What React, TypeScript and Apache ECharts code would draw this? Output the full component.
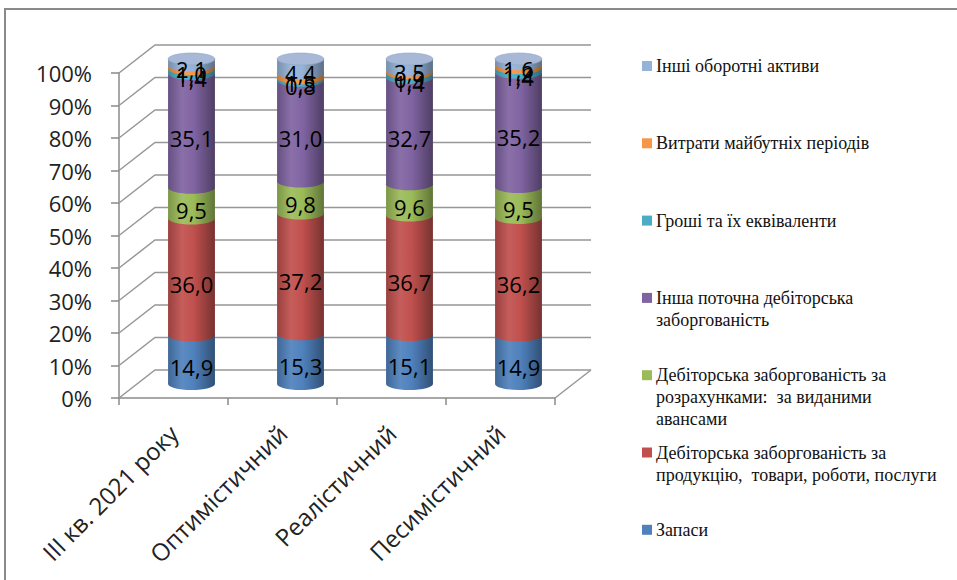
import { useEffect, useRef } from "react";
import * as echarts from "echarts";

// Scenario columns and tick values
const categories = ["III кв. 2021 року", "Оптимістичний", "Реалістичний", "Песимістичний"];
const yTicks = [0, 10, 20, 30, 40, 50, 60, 70, 80, 90, 100];

// Structure of current assets, % (bottom to top of each column)
const zapasy = [14.9, 15.3, 15.1, 14.9];
const debProdukciya = [36.0, 37.2, 36.7, 36.2];
const debAvansy = [9.5, 9.8, 9.6, 9.5];
const inshaDebitorska = [35.1, 31.0, 32.7, 35.2];
const groshi = [1.4, 0.8, 1.4, 1.4];
const vytratyMaibutnikh = [1.0, 1.5, 0.9, 1.2];
const inshiAktyvy = [2.1, 4.4, 3.5, 1.6];

const seriesNames = [
  "Запаси",
  "Дебіторська заборгованість за продукцію,  товари, роботи, послуги",
  "Дебіторська заборгованість за розрахунками:  за виданими авансами",
  "Інша поточна дебіторська заборгованість",
  "Гроші та їх еквіваленти",
  "Витрати майбутніх періодів",
  "Інші оборотні активи",
];
const legendLabels = [
  "Запаси",
  "Дебіторська заборгованість за\nпродукцію,  товари, роботи, послуги",
  "Дебіторська заборгованість за\nрозрахунками:  за виданими\nавансами",
  "Інша поточна дебіторська\nзаборгованість",
  "Гроші та їх еквіваленти",
  "Витрати майбутніх періодів",
  "Інші оборотні активи",
];
const seriesValues = [zapasy, debProdukciya, debAvansy, inshaDebitorska, groshi, vytratyMaibutnikh, inshiAktyvy];
const colors = ["#4F81BD", "#C0504D", "#9BBB59", "#8064A2", "#4BACC6", "#F79646", "#95B3D7"];

// pseudo-3D depth of the plot box
const DEPTH_X = 36;
const DEPTH_Y = -28;
const CAP_RY = 6;
const FONT = '"Open Sans", "Liberation Sans", sans-serif';
const SERIF = "'Liberation Serif', 'Times New Roman', 'DejaVu Serif', serif";

function shade(hex: string, f: number): string {
  const n = parseInt(hex.slice(1), 16);
  const ch = [n >> 16, (n >> 8) & 255, n & 255].map((c) =>
    f >= 0 ? Math.round(c + (255 - c) * f) : Math.round(c * (1 + f))
  );
  return `rgb(${ch[0]},${ch[1]},${ch[2]})`;
}

function cylGradient(hex: string) {
  return {
    type: "linear",
    x: 0,
    y: 0,
    x2: 1,
    y2: 0,
    colorStops: [
      { offset: 0, color: shade(hex, -0.2) },
      { offset: 0.3, color: shade(hex, 0.08) },
      { offset: 0.55, color: hex },
      { offset: 1, color: shade(hex, -0.38) },
    ],
  };
}

const fmt = (v: number) => v.toFixed(1).replace(".", ",");

export default function App() {
  const ref = useRef<HTMLDivElement>(null);

  useEffect(() => {
    if (!ref.current) return;
    const chart = echarts.init(ref.current, null, { renderer: "svg" });

    // 100% stacking: cumulative shares per column
    const totals = categories.map((_, c) => seriesValues.reduce((s, arr) => s + arr[c], 0));
    const cum = categories.map(() => 0);

    const barSeries = seriesValues.map((vals, si) => {
      const data = vals.map((v, c) => {
        const start = cum[c];
        const end = start + (v / totals[c]) * 100;
        cum[c] = end;
        return [c, start, end, v];
      });
      const isTop = si === seriesValues.length - 1;
      const color = colors[si];
      return {
        type: "custom",
        name: seriesNames[si],
        z: 3,
        silent: true,
        encode: { x: 0, y: [1, 2] },
        data,
        renderItem: (params: any, api: any) => {
          const cat = api.value(0);
          const p0 = api.coord([cat, api.value(1)]);
          const p1 = api.coord([cat, api.value(2)]);
          const w = api.size([1, 0])[0] * 0.43;
          const cx = p0[0] + DEPTH_X / 2;
          const yb = p0[1] + DEPTH_Y / 2;
          const yt = p1[1] + DEPTH_Y / 2;
          const children: any[] = [
            {
              type: "ellipse",
              shape: { cx, cy: yb, rx: w / 2, ry: CAP_RY },
              style: { fill: cylGradient(color) },
            },
            {
              type: "rect",
              shape: { x: cx - w / 2, y: yt, width: w, height: Math.max(yb - yt, 0) },
              style: { fill: cylGradient(color) },
            },
          ];
          if (isTop) {
            children.push({
              type: "ellipse",
              shape: { cx, cy: yt, rx: w / 2, ry: CAP_RY },
              style: { fill: "#a7b9d6", stroke: "#8ea3c4", lineWidth: 0.6 },
            });
          }
          children.push({
            type: "text",
            z2: 100,
            style: {
              text: fmt(api.value(3)),
              x: cx,
              y: (yb + yt) / 2 + CAP_RY + 1,
              align: "center",
              verticalAlign: "middle",
              fontSize: 22,
              fontFamily: FONT,
              fill: "#000",
            },
          });
          return { type: "group", children };
        },
      };
    });

    // back wall and floor lines, one per y tick
    const wallSeries = {
      type: "custom",
      name: "walls",
      z: 1,
      silent: true,
      encode: { x: 0, y: 1 },
      data: yTicks.map((t) => [0, t]),
      renderItem: (params: any, api: any) => {
        const cs = params.coordSys;
        const y = api.coord([0, api.value(1)])[1];
        const x0 = cs.x;
        const x1 = cs.x + cs.width;
        const lineStyle = { stroke: "#979797", lineWidth: 1.5, fill: "none" };
        const children: any[] = [
          {
            type: "polyline",
            shape: { points: [[x0, y], [x0 + DEPTH_X, y + DEPTH_Y], [x1 + DEPTH_X, y + DEPTH_Y]] },
            style: lineStyle,
          },
        ];
        if (api.value(1) === 0) {
          children.push({
            type: "line",
            shape: { x1: x1, y1: y, x2: x1 + DEPTH_X, y2: y + DEPTH_Y },
            style: lineStyle,
          });
        }
        return { type: "group", children };
      },
    };

    // legend drawn top-down: last series first
    const legendTop = 66;
    const legendStep = 77.3;
    const legendItems: any[] = [];
    for (let k = 0; k < seriesNames.length; k++) {
      const si = seriesNames.length - 1 - k;
      const cy = legendTop + k * legendStep;
      legendItems.push({
        type: "rect",
        shape: { x: 642, y: cy - 5, width: 10, height: 10 },
        style: { fill: colors[si] },
        silent: true,
      });
      legendItems.push({
        type: "text",
        style: {
          text: legendLabels[si],
          x: 656,
          y: cy - 11,
          verticalAlign: "top",
          lineHeight: 22,
          font: `18px ${SERIF}`,
          fill: "#111",
        },
        silent: true,
      });
    }

    chart.setOption({
      animation: false,
      backgroundColor: "#ffffff",
      grid: { left: 119, right: 402, top: 73, bottom: 182, containLabel: false },
      xAxis: {
        type: "category",
        data: categories,
        boundaryGap: true,
        axisLine: { show: true, lineStyle: { color: "#8a8a8a", width: 1.5 } },
        axisTick: { show: true, length: 7, lineStyle: { color: "#8a8a8a", width: 1.5 } },
        axisLabel: {
          interval: 0,
          rotate: 45,
          margin: 31,
          color: "#222",
          fontSize: 24,
          fontFamily: FONT,
        },
        splitLine: { show: false },
      },
      yAxis: {
        type: "value",
        min: 0,
        max: 100,
        interval: 10,
        axisLine: { show: true, lineStyle: { color: "#8a8a8a", width: 1.5 } },
        axisTick: { show: true, length: 8, lineStyle: { color: "#8a8a8a", width: 1.5 } },
        axisLabel: {
          formatter: "{value}%",
          margin: 27,
          color: "#222",
          fontSize: 22,
          fontFamily: FONT,
        },
        splitLine: { show: false },
      },
      graphic: [
        {
          type: "rect",
          silent: true,
          shape: { x: 5, y: 9, width: 1000, height: 1000 },
          style: { fill: "none", stroke: "#8a8a8a", lineWidth: 2 },
        },
        ...legendItems,
      ],
      series: [wallSeries, ...barSeries],
    });

    return () => chart.dispose();
  }, []);

  return (
    <div
      ref={ref}
      style={{ position: "absolute", left: 0, top: 0, width: 957, height: 580 }}
    />
  );
}
